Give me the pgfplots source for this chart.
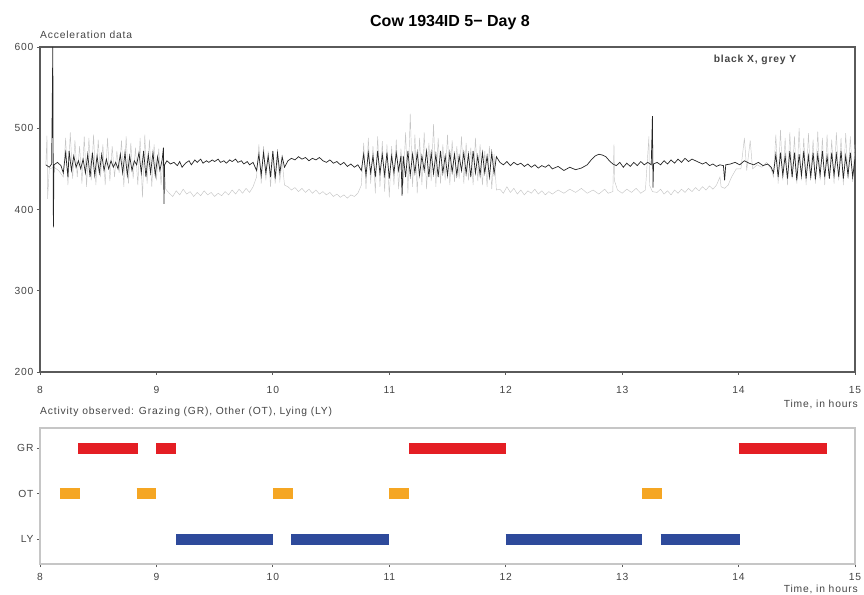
\documentclass[border=0pt]{standalone}
\usepackage{fontspec}
\setmainfont{Liberation Sans}
\newfontfamily\wide{Liberation Sans}[LetterSpace=8]
\usepackage{pgfplots}
\pgfplotsset{compat=1.18}

\definecolor{grz}{HTML}{E41E24}
\definecolor{oth}{HTML}{F5A623}
\definecolor{lyi}{HTML}{2E4A9B}
\definecolor{axgray}{HTML}{5A5A5A}
\definecolor{labgray}{HTML}{444444}

\pgfplotsset{
  cowbase/.style={
    scale only axis,
    width=815pt,
    xmin=8, xmax=15,
    xtick={8,9,...,15},
    tick align=outside,
    major tick length=3pt,
    xtick pos=bottom, ytick pos=left,
    tick style={axgray, line width=0.8pt},
    ticklabel style={font=\wide\fontsize{10.3}{12}\selectfont, text=labgray},
    /pgf/number format/assume math mode=true,
  }
}

\begin{document}
\begin{tikzpicture}
\useasboundingbox (-40pt,-30pt) rectangle (824pt,564pt);

% ---- acceleration panel ----
\begin{axis}[cowbase,
  at={(0pt,192pt)}, anchor=south west,
  height=325pt,
  ymin=200, ymax=600,
  ytick={200,300,...,600},
  axis line style={axgray, line width=1.2pt},
  xticklabel style={yshift=-8pt},
]
% grey Y
\addplot[gray!45, line width=0.45pt] coordinates {
(8.05,455)(8.06,491)(8.065,413)(8.08,450)(8.12,452)(8.16,448)
(8.20,440)(8.22,488)(8.24,430)(8.26,495)(8.28,438)(8.30,485)(8.32,440)(8.34,478)(8.36,432)(8.38,490)
(8.40,428)(8.42,488)(8.44,436)(8.46,492)(8.48,430)(8.50,486)(8.52,440)(8.54,480)(8.56,430)(8.58,488)
(8.60,435)(8.62,478)(8.64,440)(8.66,472)(8.68,445)(8.70,485)(8.72,428)(8.74,490)(8.76,432)(8.78,482)
(8.80,438)(8.82,476)(8.84,430)(8.86,488)(8.88,415)(8.90,492)(8.92,432)(8.94,486)(8.96,428)(8.98,480)
(9.00,436)(9.02,475)(9.04,430)(9.06,470)(9.08,425)
(9.11,420)(9.14,416)(9.17,423)(9.20,418)(9.23,425)(9.26,419)(9.29,422)(9.32,416)(9.35,421)(9.38,417)
(9.41,423)(9.44,418)(9.47,421)(9.50,416)(9.53,420)(9.56,417)(9.59,422)(9.62,418)(9.65,424)(9.68,419)
(9.71,425)(9.74,420)(9.77,426)(9.80,421)(9.83,428)
(9.86,440)(9.88,480)(9.90,432)(9.92,478)(9.94,436)(9.96,472)(9.98,428)(10.00,470)(10.02,432)(10.04,465)
(10.06,435)(10.08,460)(10.10,430)
(10.13,428)(10.16,424)(10.19,427)(10.22,422)(10.25,426)(10.28,421)(10.31,425)(10.34,420)(10.37,424)
(10.40,419)(10.43,422)(10.46,418)(10.49,421)(10.52,416)(10.55,419)(10.58,415)(10.61,418)(10.64,414)
(10.67,418)(10.70,416)(10.73,420)
(10.76,430)(10.78,482)(10.80,425)(10.82,488)(10.84,432)(10.86,478)(10.88,420)(10.90,490)(10.92,428)
(10.94,484)(10.96,422)(10.98,480)(11.00,415)(11.02,478)(11.04,430)(11.06,486)(11.08,425)(11.10,475)
(11.12,432)(11.14,495)(11.16,420)(11.18,518)(11.20,428)(11.22,492)(11.24,420)(11.26,488)(11.28,430)
(11.30,495)(11.32,425)(11.34,482)(11.36,435)(11.38,505)(11.40,428)(11.42,488)(11.44,432)(11.46,480)
(11.48,436)(11.50,492)(11.52,430)(11.54,485)(11.56,434)(11.58,478)(11.60,438)(11.62,490)(11.64,432)
(11.66,482)(11.68,436)(11.70,476)(11.72,430)(11.74,488)(11.76,435)(11.78,480)(11.80,430)(11.82,472)
(11.84,428)(11.86,478)(11.88,425)(11.90,468)(11.92,424)
(11.95,425)(11.98,420)(12.01,428)(12.04,421)(12.07,426)(12.10,419)(12.13,424)(12.16,418)(12.19,423)
(12.22,420)(12.25,425)(12.28,419)(12.31,423)(12.34,418)(12.37,422)(12.40,419)(12.45,424)(12.50,420)
(12.55,425)(12.60,421)(12.65,426)(12.70,420)(12.75,424)(12.80,419)(12.85,425)(12.88,420)(12.92,422)
(12.93,480)(12.935,435)(12.96,424)(13.00,420)(13.04,425)(13.08,421)(13.12,426)(13.16,420)(13.20,424)
(13.23,490)(13.235,430)(13.26,422)
(13.30,421)(13.33,425)(13.36,419)(13.39,423)(13.42,418)(13.45,424)(13.48,420)(13.51,425)(13.54,421)
(13.57,426)(13.60,422)(13.63,427)(13.66,423)(13.69,428)(13.72,424)(13.75,429)(13.78,425)(13.81,430)
(13.84,440)(13.85,428)(13.88,426)(13.91,430)
(13.94,440)(13.98,450)(14.02,450)(14.05,488)(14.07,448)(14.10,485)(14.12,450)(14.16,455)(14.20,452)
(14.24,458)(14.28,450)
(14.30,440)(14.32,492)(14.34,432)(14.36,498)(14.38,436)(14.40,488)(14.42,430)(14.44,495)(14.46,438)
(14.48,490)(14.50,432)(14.52,500)(14.54,436)(14.56,488)(14.58,430)(14.60,494)(14.62,438)(14.64,486)
(14.66,432)(14.68,496)(14.70,436)(14.72,488)(14.74,430)(14.76,492)(14.78,438)(14.80,486)(14.82,432)
(14.84,495)(14.86,436)(14.88,488)(14.90,430)(14.92,494)(14.94,438)(14.96,490)(14.98,434)(15.00,480)
};
% black X
\addplot[black!85, line width=0.7pt] coordinates {
(8.05,455)(8.08,452)(8.10,456)(8.11,600)(8.115,378)(8.12,455)(8.15,458)(8.18,454)
(8.20,445)(8.22,470)(8.24,440)(8.25,472)(8.27,448)(8.29,466)(8.31,452)(8.33,460)(8.35,450)(8.37,462)
(8.39,445)(8.41,468)(8.43,440)(8.45,470)(8.47,442)(8.49,466)(8.51,445)(8.53,468)(8.55,448)(8.57,462)
(8.59,450)(8.61,460)(8.63,452)(8.65,458)(8.67,450)(8.69,468)(8.71,445)(8.73,470)(8.75,442)(8.77,466)
(8.79,448)(8.81,460)(8.83,455)(8.85,470)(8.87,445)(8.89,472)(8.91,440)(8.93,468)(8.95,445)(8.97,470)
(8.99,442)(9.01,465)(9.03,448)(9.05,462)(9.06,476)(9.065,407)(9.07,455)(9.09,460)
(9.12,456)(9.15,458)(9.18,454)(9.20,459)(9.22,452)(9.25,457)(9.28,460)(9.30,455)(9.33,461)(9.35,458)
(9.38,462)(9.40,457)(9.43,460)(9.45,458)(9.48,461)(9.50,459)(9.53,462)(9.55,458)(9.58,460)(9.60,457)
(9.63,461)(9.65,459)(9.68,462)(9.70,458)(9.73,460)(9.75,456)(9.78,459)(9.80,455)(9.83,458)
(9.86,448)(9.88,468)(9.90,442)(9.92,470)(9.94,445)(9.96,466)(9.98,440)(10.00,472)(10.02,438)(10.04,470)
(10.06,445)(10.08,465)(10.10,452)
(10.13,460)(10.16,463)(10.19,461)(10.22,465)(10.25,462)(10.28,464)(10.31,460)(10.34,463)(10.37,461)
(10.40,464)(10.43,460)(10.46,458)(10.49,461)(10.52,457)(10.55,459)(10.58,455)(10.61,458)(10.64,453)
(10.67,456)(10.70,452)(10.73,455)
(10.76,448)(10.78,468)(10.80,442)(10.82,470)(10.84,445)(10.86,466)(10.88,440)(10.90,472)(10.92,444)
(10.94,468)(10.96,442)(10.98,470)(11.00,438)(11.02,466)(11.04,445)(11.06,470)(11.08,448)(11.10,466)
(11.11,417)(11.12,466)(11.14,440)(11.16,472)(11.18,442)(11.20,468)(11.22,445)(11.24,470)(11.26,442)
(11.28,466)(11.30,448)(11.32,472)(11.34,440)(11.36,470)(11.38,444)(11.40,468)(11.42,440)(11.44,472)
(11.46,445)(11.48,466)(11.50,442)(11.52,470)(11.54,446)(11.56,468)(11.58,442)(11.60,466)(11.62,448)
(11.64,470)(11.66,444)(11.68,468)(11.70,440)(11.72,472)(11.74,445)(11.76,466)(11.78,442)(11.80,470)
(11.82,445)(11.84,466)(11.86,440)(11.88,470)(11.90,444)(11.92,465)
(11.95,458)(11.98,455)(12.01,459)(12.04,454)(12.07,458)(12.10,455)(12.13,457)(12.16,453)(12.19,456)
(12.22,452)(12.25,455)(12.28,451)(12.31,454)(12.34,452)(12.37,455)
(12.40,450)(12.45,453)(12.50,448)(12.55,452)(12.60,449)(12.65,451)(12.70,455)
(12.74,462)(12.77,466)(12.80,468)(12.83,467)(12.86,465)(12.89,460)
(12.92,456)(12.95,454)(12.98,458)(13.01,452)(13.04,457)(13.07,453)(13.10,458)(13.13,454)(13.16,459)
(13.19,455)(13.22,458)(13.25,455)(13.26,515)(13.265,427)(13.27,456)
(13.30,458)(13.33,455)(13.36,460)(13.39,456)(13.42,461)(13.45,457)(13.48,462)(13.51,458)(13.54,463)
(13.57,459)(13.60,462)(13.63,460)(13.66,458)(13.69,456)(13.72,458)(13.75,454)(13.78,456)(13.81,453)
(13.84,455)(13.87,454)(13.88,436)(13.89,455)
(13.93,456)(13.97,458)(14.01,455)(14.05,460)(14.09,457)(14.13,455)(14.17,458)(14.21,454)(14.25,456)
(14.28,452)
(14.30,445)(14.32,468)(14.34,440)(14.36,470)(14.38,442)(14.40,466)(14.42,438)(14.44,472)(14.46,440)
(14.48,470)(14.50,436)(14.52,468)(14.54,442)(14.56,472)(14.58,438)(14.60,466)(14.62,440)(14.64,470)
(14.66,437)(14.68,468)(14.70,442)(14.72,472)(14.74,440)(14.76,466)(14.78,438)(14.80,470)(14.82,442)
(14.84,468)(14.86,440)(14.88,472)(14.90,438)(14.92,466)(14.94,442)(14.96,470)(14.98,440)(15.00,462)
};
\end{axis}

% ---- activity panel ----
\begin{axis}[cowbase,
  at={(0pt,0pt)}, anchor=south west,
  height=136pt,
  ymin=0.45, ymax=3.45,
  ytick={1,2,3}, yticklabels={LY,OT,GR},
  axis line style={gray!45, line width=2pt},
  xticklabel style={yshift=-3pt},
  unbounded coords=jump,
]
\addplot[grz, line width=11pt, line cap=butt] coordinates {
(8.33,3)(8.84,3)(8.9,nan)(9.0,3)(9.17,3)(9.5,nan)(11.17,3)(12.0,3)(13,nan)(14.0,3)(14.76,3)
};
\addplot[oth, line width=11pt, line cap=butt] coordinates {
(8.17,2)(8.34,2)(8.5,nan)(8.83,2)(9.0,2)(9.5,nan)(10.0,2)(10.17,2)(10.5,nan)(11.0,2)(11.17,2)(12,nan)(13.17,2)(13.34,2)
};
\addplot[lyi, line width=11pt, line cap=butt] coordinates {
(9.17,1)(10.0,1)(10.08,nan)(10.16,1)(11.0,1)(11.5,nan)(12.0,1)(13.17,1)(13.25,nan)(13.33,1)(14.01,1)
};
\end{axis}

% ---- texts ----
\node[font=\fontsize{16}{18}\selectfont\bfseries] at (410pt,541pt) {Cow 1934ID 5\textminus\ Day 8};
\node[anchor=west, font=\wide\fontsize{10.3}{12}\selectfont, text=labgray, inner sep=0pt] at (0pt,529pt) {Acceleration data};
\node[font=\wide\fontsize{10.3}{12}\selectfont\bfseries, text=labgray] at (715pt,504pt) {black X, grey Y};
\node[anchor=east, font=\wide\fontsize{10.3}{12}\selectfont, text=labgray, inner sep=0pt] at (818pt,160pt) {Time, in hours};
\node[anchor=west, font=\wide\fontsize{10.3}{12}\selectfont, text=labgray, inner sep=0pt] at (0pt,152pt) {Activity observed: Grazing (GR), Other (OT), Lying (LY)};
\node[anchor=south east, font=\wide\fontsize{10.3}{12}\selectfont, text=labgray, inner sep=0pt] at (818pt,-30pt) {Time, in hours};
\end{tikzpicture}
\end{document}
